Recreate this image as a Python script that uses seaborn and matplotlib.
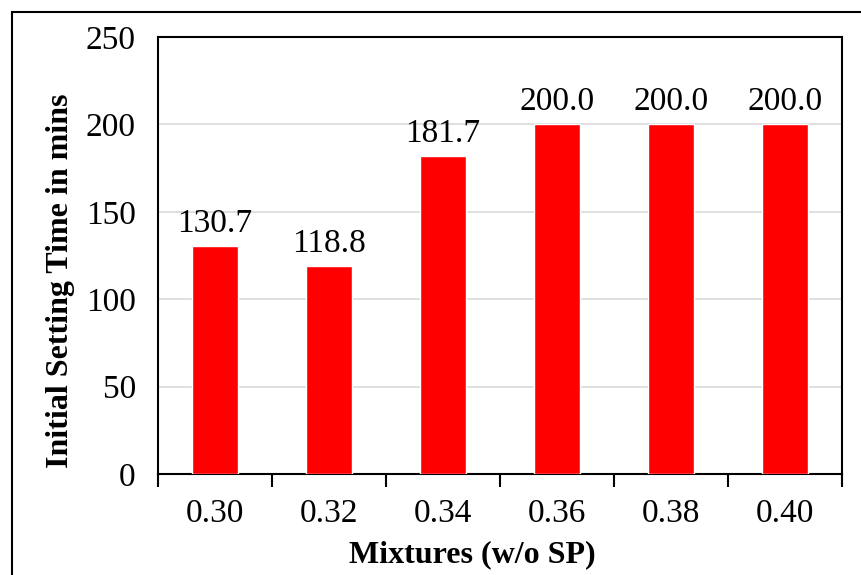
import matplotlib
matplotlib.use("Agg")
import matplotlib.pyplot as plt
import seaborn as sns
import pandas as pd
from matplotlib.patches import Rectangle

categories = ["0.30", "0.32", "0.34", "0.36", "0.38", "0.40"]
values = [130.7, 118.8, 181.7, 200.0, 200.0, 200.0]
yticks = [0, 50, 100, 150, 200, 250]

sns.set_theme(style="white")
plt.rcParams['font.family'] = ['Liberation Serif', 'DejaVu Serif']

df = pd.DataFrame({"Mixture": categories, "Time": values})

fig = plt.figure(figsize=(8.62, 5.75), dpi=100)
ax = fig.add_axes([158/862, 1-474/575, (842-158)/862, (474-37)/575])

sns.barplot(data=df, x="Mixture", y="Time", color="#FF0000", width=0.41,
            saturation=1, ax=ax, zorder=3)

ax.set_ylim(0, 250)
ax.set_yticks(yticks)
ax.set_xlim(-0.5, len(categories)-0.5)
ax.yaxis.grid(True, color="#D9D9D9", linewidth=1.2, zorder=0)
ax.set_axisbelow(True)

for s in ax.spines.values():
    s.set_visible(True)
    s.set_color("black")
    s.set_linewidth(1.5)

ax.tick_params(axis="y", length=0, labelsize=24, pad=16, colors="black")
ax.tick_params(axis="x", which="major", length=0, labelsize=24, pad=18, colors="black")
# boundary ticks between categories
ax.set_xticks([i - 0.5 for i in range(len(categories)+1)], minor=True)
ax.tick_params(axis="x", which="minor", bottom=True, length=9, width=1.5,
               color="black", direction="out")

for i, v in enumerate(values):
    ax.text(i, v + 4, f"{v:.1f}", ha="center", va="bottom", fontsize=24, color="black")

ax.set_xlabel("Mixtures (w/o SP)", fontsize=23, fontweight="bold", labelpad=8, color="black")
ax.set_ylabel("Initial Setting Time in mins", fontsize=23, fontweight="bold", labelpad=8, color="black")
ax.xaxis.label.set_x(0.5 - 28/684)
ax.yaxis.label.set_y(0.5 - 25/437)

fig.patches.append(Rectangle((12/862, -0.1), 1.2, 1-12/575+0.1, transform=fig.transFigure,
                             fill=False, edgecolor="black", linewidth=1.5))

fig.savefig("out.png", dpi=100)
